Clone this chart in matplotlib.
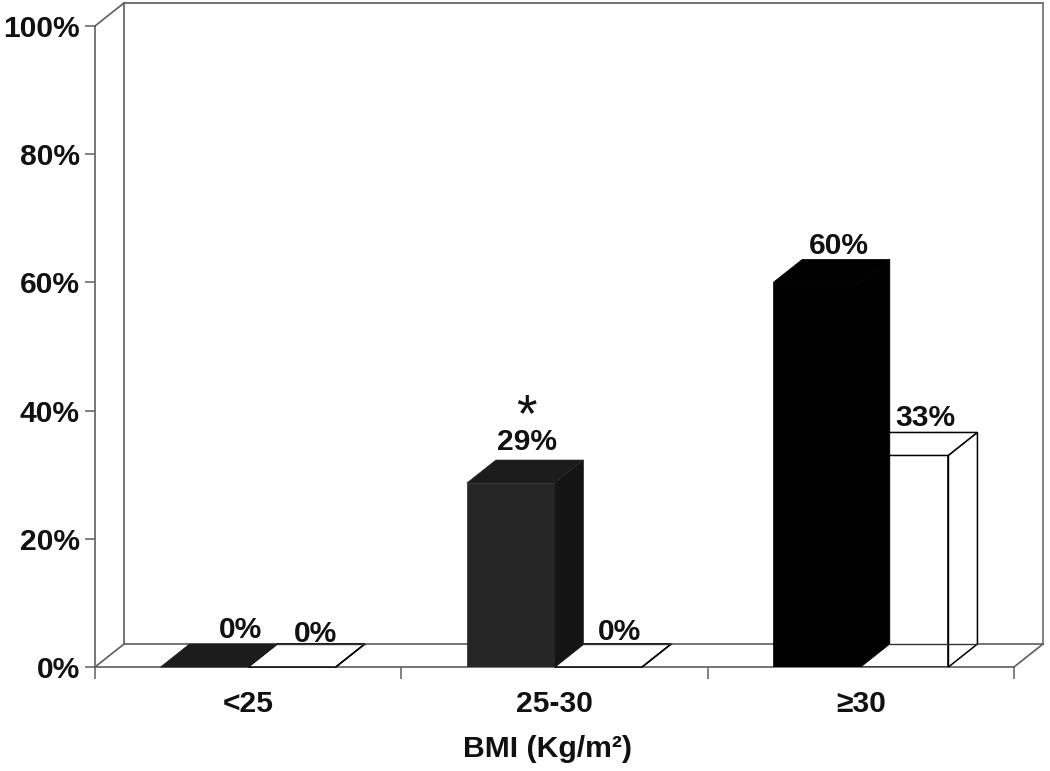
import matplotlib
matplotlib.use("Agg")
import matplotlib.pyplot as plt
from matplotlib.patches import Polygon
from matplotlib.transforms import Affine2D

categories = ["<25", "25-30", "\u226530"]
series_dark = [0, 28.7, 60]
series_white = [0, 0, 33]
y_ticks = [0, 20, 40, 60, 80, 100]
dark_labels = ["0%", "29%", "60%"]
white_labels = ["0%", "0%", "33%"]
x_title = "BMI (Kg/m\u00b2)"

plt.rcParams["font.family"] = ["Liberation Sans", "DejaVu Sans"]
plt.rcParams["font.weight"] = "bold"

W, H = 1050, 771
fig = plt.figure(figsize=(W / 100, H / 100), dpi=100)
ax = fig.add_axes([95 / W, (H - 667) / H, (1014 - 95) / W, (667 - 26) / H])
ax.set_xlim(-0.5, 2.5)
ax.set_ylim(0, 100)

DX, DY = 29, 23
depth = ax.transData + Affine2D().translate(DX, DY)
GREY = "#5e5e5e"
FS = 21.6

# frame
ax.patch.set_alpha(0)
for s in ("top", "right"):
    ax.spines[s].set_visible(False)
for s in ("left", "bottom"):
    ax.spines[s].set_color(GREY)
    ax.spines[s].set_linewidth(1.2)

ax.plot([-0.5, -0.5], [0, 100], color=GREY, lw=1.2, transform=depth, clip_on=False, zorder=1)
ax.plot([-0.5, 2.5], [100, 100], color="#777777", lw=1.5, transform=depth, clip_on=False, zorder=1)
ax.plot([2.5, 2.5], [0, 100], color="#777777", lw=1.3, transform=depth, clip_on=False, zorder=1)
ax.plot([-0.5, 2.5], [0, 0], color=GREY, lw=1.2, transform=depth, clip_on=False, zorder=1)


def diagonal(x, y):
    p0 = ax.transData.transform((x, y))
    ax.plot([p0[0], p0[0] + DX], [p0[1], p0[1] + DY], color=GREY, lw=1.2,
            transform=None, clip_on=False, zorder=1)


diagonal(-0.5, 100)
diagonal(-0.5, 0)
diagonal(2.5, 0)

# ticks
ax.set_yticks(y_ticks)
ax.set_yticklabels([f"{v}%" for v in y_ticks], fontsize=FS, fontweight="bold", color="#111111")
ax.tick_params(axis="y", length=7.5, width=1.1, color=GREY, pad=3.5)
ax.set_xticks([0, 1, 2])
ax.set_xticklabels(categories, fontsize=FS, fontweight="bold", color="#111111")
ax.tick_params(axis="x", which="major", length=0, pad=16.5)
ax.set_xticks([-0.5, 0.5, 1.5, 2.5], minor=True)
ax.tick_params(axis="x", which="minor", length=8.5, width=1.1, color=GREY)
ax.set_xlabel(x_title, fontsize=21.7, fontweight="bold", color="#111111", labelpad=12.5, x=0.4929)

# bars
BAR_W = 0.286
x_pos = [0, 1, 2]
dark_front = ["#1c1c1c", "#262626", "#000000"]
dark_top = ["#1c1c1c", "#1c1c1c", "#000000"]
dark_side = ["#1c1c1c", "#141414", "#000000"]
dark_off = [(36, 37), (16, 41), (22, 36)]
white_off = [(24, 33), (21, 35), (21, 37)]


def box(x0, x1, v, front, top, side, edge, lw, z):
    ax.bar(x0, v, width=x1 - x0, align="edge", color=front, edgecolor=edge, linewidth=lw, zorder=z)
    p = lambda x, y: tuple(ax.transData.transform((x, y)))
    a, b = p(x0, v), p(x1, v)
    c, d = p(x1, 0), (a[0], p(x0, 0)[1])
    off = lambda q: (q[0] + DX, q[1] + DY)
    ax.add_patch(Polygon([a, b, off(b), off(a)], closed=True, transform=None,
                         facecolor=top, edgecolor=edge, lw=lw, clip_on=False, zorder=z))
    ax.add_patch(Polygon([b, c, off(c), off(b)], closed=True, transform=None,
                         facecolor=side, edgecolor=edge, lw=lw, clip_on=False, zorder=z))
    return off(c), off(d)


for i, x in enumerate(x_pos):
    # white bar first: the dark bar's side hides its left part
    x0, x1 = x, x + BAR_W
    c_b, d_b = box(x0, x1, series_white[i], "white", "white", "white", "black", 1.1, 3)
    ax.plot([c_b[0], d_b[0]], [c_b[1], d_b[1]], color="#333333", lw=1.0, transform=None,
            clip_on=False, zorder=3.5)
    ax.annotate(white_labels[i], xy=(x + BAR_W / 2, series_white[i]),
                xytext=white_off[i], textcoords="offset pixels", ha="center", va="center",
                fontsize=FS, fontweight="bold", color="#111111", zorder=6)

for i, x in enumerate(x_pos):
    x0, x1 = x - BAR_W, x
    box(x0, x1, series_dark[i], dark_front[i], dark_top[i], dark_side[i], dark_front[i], 0.5, 4)
    ax.annotate(dark_labels[i], xy=(x0 + BAR_W / 2, series_dark[i]),
                xytext=dark_off[i], textcoords="offset pixels", ha="center", va="center",
                fontsize=FS, fontweight="bold", color="#111111", zorder=6)

# significance marker over the 25-30 group
ax.annotate("*", xy=(1 - BAR_W / 2, series_dark[1]), xytext=(16, 66), textcoords="offset pixels",
            ha="center", va="center", fontsize=38, fontweight="normal", color="#111111", zorder=6)

fig.savefig("out.png", dpi=100, facecolor="white")
